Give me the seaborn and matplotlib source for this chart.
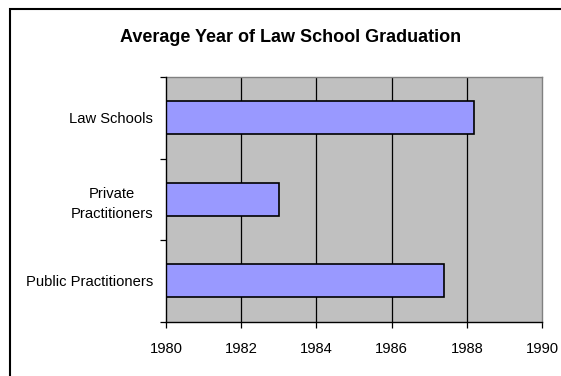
import matplotlib
matplotlib.use("Agg")
import matplotlib.pyplot as plt
import seaborn as sns
import pandas as pd
from matplotlib.patches import Rectangle
from matplotlib.ticker import FixedLocator

categories = ["Law Schools", "Private\nPractitioners", "Public Practitioners"]
avg_year = [1988.2, 1983.0, 1987.4]
year_ticks = [1980, 1982, 1984, 1986, 1988, 1990]

df = pd.DataFrame({"group": categories, "year": avg_year})

sns.set_style("white")
plt.rcParams["font.family"] = ["Liberation Sans", "DejaVu Sans"]
plt.rcParams["text.color"] = "black"
plt.rcParams["xtick.color"] = "black"
plt.rcParams["ytick.color"] = "black"

fig = plt.figure(figsize=(5.61, 3.76), dpi=100)
ax = fig.add_axes([166 / 561, 1 - 321.5 / 376, (542 - 166) / 561, (321.5 - 77) / 376])
ax.set_facecolor("#C0C0C0")

sns.barplot(data=df, x="year", y="group", orient="h", ax=ax,
            color="#9999FF", saturation=1, width=0.4,
            edgecolor="black", linewidth=1.2, zorder=3)

ax.set_xlim(year_ticks[0], year_ticks[-1])
ax.set_ylim(2.5, -0.5)
ax.set_xticks(year_ticks)
ax.set_xticklabels([str(y) for y in year_ticks])
ax.set_xlabel("")
ax.set_ylabel("")

# vertical gridlines at each year tick
for x in year_ticks[1:-1]:
    ax.axvline(x, color="black", lw=0.9, zorder=1)

# y tick marks sit between categories, labels at category centres
ax.yaxis.set_minor_locator(FixedLocator([-0.5, 0.5, 1.5, 2.5]))
ax.tick_params(axis="y", which="major", length=0, pad=9.2, labelsize=10.6)
ax.tick_params(axis="y", which="minor", length=4, width=0.9, direction="out", left=True)
ax.tick_params(axis="x", which="major", length=4, width=0.9, direction="out",
               bottom=True, pad=11, labelsize=10.6)
for lbl in ax.get_yticklabels():
    lbl.set_multialignment("center")
    lbl.set_linespacing(1.6)

for side in ["left", "bottom"]:
    ax.spines[side].set_color("black")
    ax.spines[side].set_linewidth(1.0)
    ax.spines[side].set_zorder(4)
for side in ["top", "right"]:
    ax.spines[side].set_visible(True)
    ax.spines[side].set_color("#808080")
    ax.spines[side].set_linewidth(1.0)

fig.text(291 / 561, 1 - 42 / 376, "Average Year of Law School Graduation",
         ha="center", va="baseline", fontsize=13, fontweight="bold")

# chart-area frame
fig.patches.append(Rectangle((9.5 / 561, -0.05), 1.0, 1 - 9 / 376 + 0.05,
                             transform=fig.transFigure, fill=False,
                             edgecolor="black", linewidth=1.5))

fig.savefig("out.png", dpi=100)
